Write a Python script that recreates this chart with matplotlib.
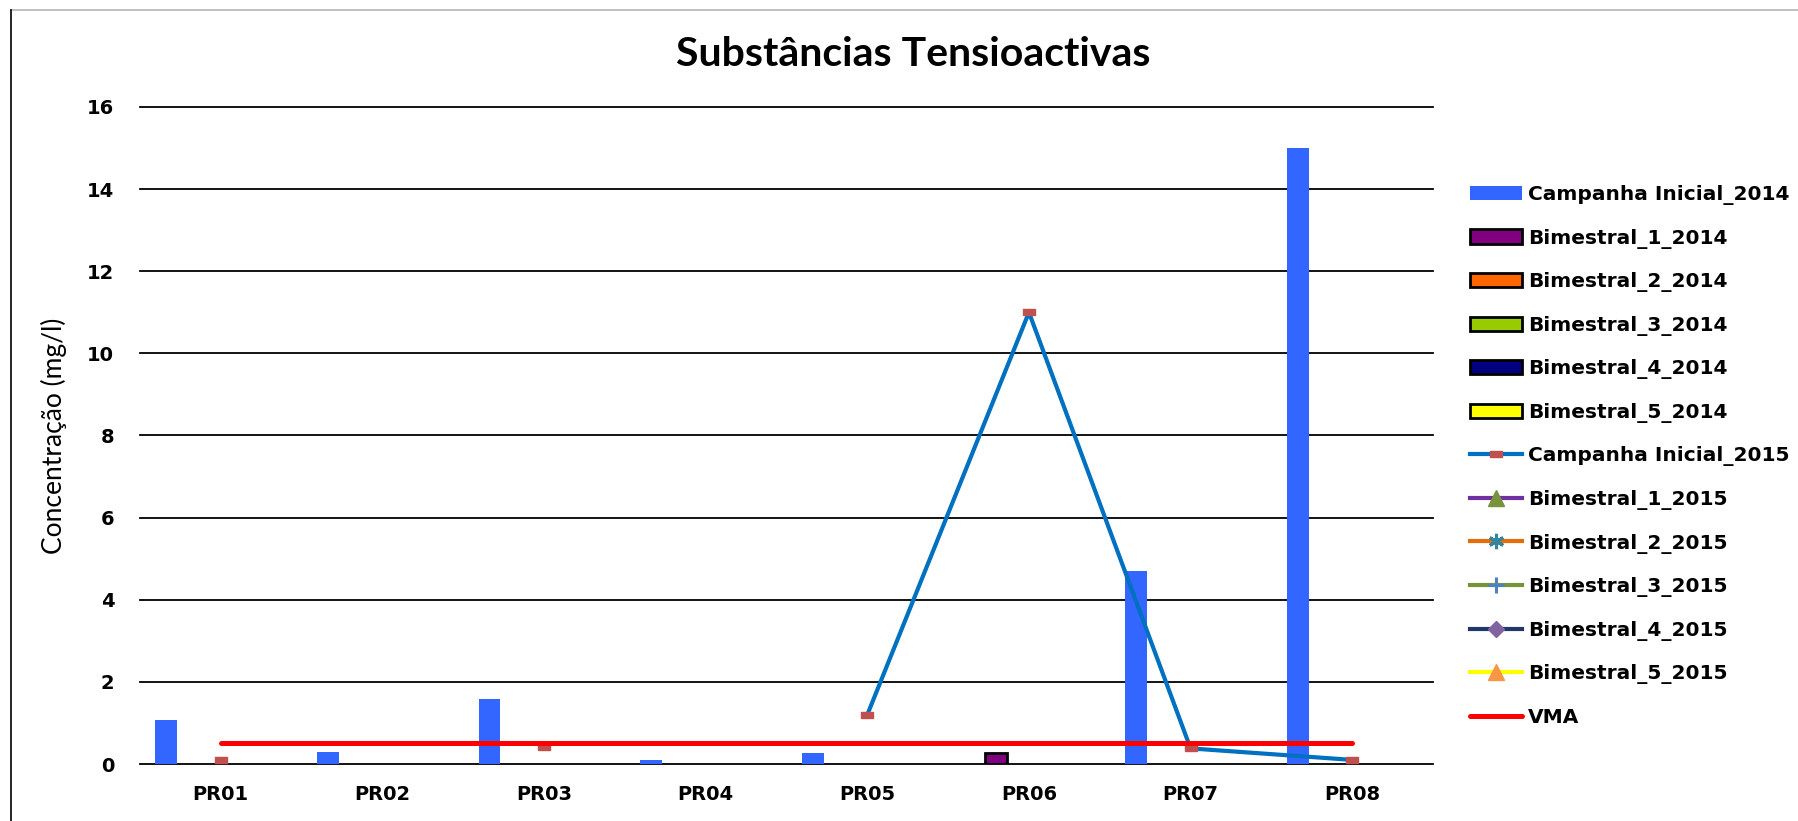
"""
Substâncias Tensioactivas — concentração por ponto de recolha
"""
import numpy as np
import matplotlib
matplotlib.use("Agg")
import matplotlib.pyplot as plt
from matplotlib.lines import Line2D

NAN = np.nan

# pontos de recolha
SITES = ["PR01", "PR02", "PR03", "PR04", "PR05", "PR06", "PR07", "PR08"]

# séries em barras (2014)
CAMPANHA_2014 = [1.07, 0.29, 1.58, 0.10, 0.27, NAN, 4.70, 15.0]
BIM1_2014 = [NAN, NAN, NAN, NAN, NAN, 0.28, NAN, NAN]
BIM2_2014 = [NAN] * 8
BIM3_2014 = [NAN] * 8
BIM4_2014 = [NAN] * 8
BIM5_2014 = [NAN] * 8

# séries em linha (2015)
CAMPANHA_2015 = [0.10, NAN, 0.42, NAN, 1.20, 11.0, 0.38, 0.10]
BIM1_2015 = [NAN] * 8
BIM2_2015 = [NAN] * 8
BIM3_2015 = [NAN] * 8
BIM4_2015 = [NAN] * 8
BIM5_2015 = [NAN] * 8

# valor máximo admissível
VMA = [0.5] * 8

W, H = 1798, 821
BOLD = dict(family="DejaVu Sans", weight="bold")

fig = plt.figure(figsize=(W / 100, H / 100), dpi=100, facecolor="white")
ax = fig.add_axes([140 / W, 1 - 764 / H, (1433 - 140) / W, (764 - 107) / H])

x = np.arange(len(SITES))
bw = 0.135

bar_series = [
    ("Campanha Inicial_2014", CAMPANHA_2014, "#3366FF", "none"),
    ("Bimestral_1_2014", BIM1_2014, "#800080", "black"),
    ("Bimestral_2_2014", BIM2_2014, "#FF6600", "black"),
    ("Bimestral_3_2014", BIM3_2014, "#99CC00", "black"),
    ("Bimestral_4_2014", BIM4_2014, "#000080", "black"),
    ("Bimestral_5_2014", BIM5_2014, "#FFFF00", "black"),
]
handles = []
for i, (lbl, vals, fc, ec) in enumerate(bar_series):
    bc = ax.bar(x + (i - 2.5) * bw, vals, width=bw, color=fc, edgecolor=ec,
                linewidth=2 if ec != "none" else 0, label=lbl, zorder=2)
    handles.append(bc)

rect = [(-1, -0.55), (1, -0.55), (1, 0.55), (-1, 0.55), (-1, -0.55)]
line_series = [
    ("Campanha Inicial_2015", CAMPANHA_2015, "#0070C0",
     dict(marker=rect, markersize=9, markerfacecolor="#C0504D", markeredgecolor="#C0504D")),
    ("Bimestral_1_2015", BIM1_2015, "#7030A0",
     dict(marker="^", markersize=11, markerfacecolor="#77933C", markeredgecolor="#77933C")),
    ("Bimestral_2_2015", BIM2_2015, "#E46C0A",
     dict(marker=(6, 2, 0), markersize=11, markeredgewidth=2.2, markeredgecolor="#31859C")),
    ("Bimestral_3_2015", BIM3_2015, "#77933C",
     dict(marker="+", markersize=11, markeredgewidth=2.2, markeredgecolor="#4F81BD")),
    ("Bimestral_4_2015", BIM4_2015, "#1F3864",
     dict(marker="D", markersize=8, markerfacecolor="#8064A2", markeredgecolor="#8064A2")),
    ("Bimestral_5_2015", BIM5_2015, "#FFFF00",
     dict(marker="^", markersize=11, markerfacecolor="#F79646", markeredgecolor="#F79646")),
]
for lbl, vals, col, mk in line_series:
    ln, = ax.plot(x, vals, color=col, linewidth=3, label=lbl, zorder=3, **mk)
    handles.append(ln)

vma, = ax.plot(x, VMA, color="#FF0000", linewidth=3.6, solid_capstyle="round",
               label="VMA", zorder=4)
handles.append(vma)

# eixos
ax.set_xlim(-0.5, len(SITES) - 0.5)
ax.set_ylim(0, 16)
ax.set_yticks(range(0, 17, 2))
ax.set_xticks(x)
ax.set_xticklabels(SITES)
for lab in ax.get_xticklabels() + ax.get_yticklabels():
    lab.set_fontfamily("DejaVu Sans")
    lab.set_fontweight("bold")
    lab.set_fontsize(14)
ax.tick_params(axis="y", length=0, pad=18.5)
ax.tick_params(axis="x", length=0, pad=15)
ax.yaxis.grid(True, color="black", linewidth=1.3)
ax.set_axisbelow(True)
for gl in ax.get_ygridlines():
    gl.set_clip_on(False)
for sp in ax.spines.values():
    sp.set_visible(False)

# textos
fig.text(913 / W, 1 - 66.5 / H, "Substâncias Tensioactivas", ha="center", va="baseline",
         fontsize=29.5, fontfamily="Lato", fontweight="bold")
fig.text(54 / W, 1 - 435.5 / H, "Concentração (mg/l)", rotation=90, ha="center", va="center",
         fontsize=19, fontfamily="Lato")

ax.legend(handles=handles, labels=[h.get_label() for h in handles],
          loc="upper left", bbox_to_anchor=(1470 / W, 1 - 185 / H), bbox_transform=fig.transFigure,
          frameon=False, borderpad=0, borderaxespad=0, handlelength=2.6, handletextpad=0.3,
          labelspacing=1.17, numpoints=1, prop=dict(size=14.5, **BOLD))

# moldura
fig.add_artist(Line2D([11 / W, 1], [1 - 10.5 / H] * 2, color="#b4b4b4", linewidth=1.2))
fig.add_artist(Line2D([11 / W] * 2, [0, 1 - 10.5 / H], color="black", linewidth=1.2))

fig.savefig("out.png", dpi=100, facecolor="white")
plt.close()
